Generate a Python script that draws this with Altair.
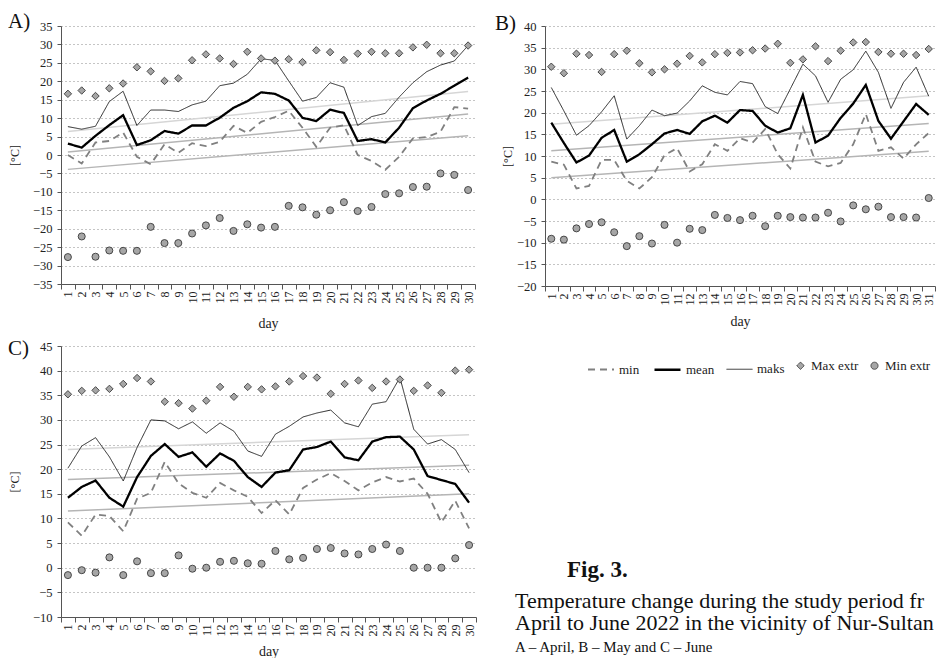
import altair as alt
import pandas as pd

FONT = "Liberation Serif"
SERIES = ["min", "mean", "maks", "Max extr", "Min extr"]

# ---------------- April (A) ----------------
A_days = list(range(1, 31))
A_min = [0.0, -2.3, 3.4, 3.8, 6.1, -0.5, -2.5, 2.9, 0.6, 3.2, 2.4, 3.6, 7.9, 6.0, 9.0,
         10.3, 12.0, 7.4, 2.2, 7.4, 8.1, 0.0, -1.6, -4.0, -0.5, 4.5, 4.9, 6.3, 13.0, 12.6]
A_mean = [3.1, 2.0, 5.2, 8.1, 10.8, 2.7, 4.0, 6.5, 5.8, 8.0, 8.0, 10.1, 12.8, 14.6, 17.0,
          16.6, 14.8, 10.1, 9.2, 12.3, 11.4, 3.8, 4.3, 3.4, 7.4, 12.7, 14.8, 16.6, 18.8, 21.0]
A_maks = [7.7, 7.0, 7.8, 14.5, 17.3, 8.0, 12.2, 12.2, 11.8, 13.6, 14.6, 18.8, 19.5, 21.9, 26.1,
          25.7, 20.1, 14.6, 15.6, 19.6, 18.4, 8.0, 10.4, 11.3, 15.7, 19.6, 22.6, 24.4, 25.5, 29.7]
A_max_extr = [16.6, 17.5, 16.0, 18.1, 19.4, 23.8, 22.7, 20.1, 20.8, 25.7, 27.3, 26.2, 24.7, 28.0, 26.2,
              25.6, 26.0, 25.2, 28.4, 27.9, 25.8, 27.5, 28.0, 27.6, 27.6, 29.2, 29.9, 27.6, 27.6, 29.7]
A_min_extr = [-27.7, -22.1, -27.6, -25.9, -26.0, -26.0, -19.5, -23.9, -23.9, -21.3, -19.1, -17.1, -20.6, -18.8, -19.7,
              -19.5, -13.8, -14.2, -16.2, -15.0, -12.8, -15.2, -14.1, -10.6, -10.4, -8.7, -8.6, -5.0, -5.4, -9.5]
A_trend_maks = [6.4, 17.2]
A_trend_mean = [0.8, 11.1]
A_trend_min = [-3.9, 5.2]

# ---------------- May (B) ----------------
B_days = list(range(1, 32))
B_min = [8.7, 8.0, 2.5, 3.1, 9.1, 9.1, 4.3, 2.5, 5.1, 10.2, 11.8, 6.4, 8.1, 12.7, 11.2, 14.1,
         13.1, 16.2, 10.4, 7.1, 16.6, 8.7, 7.6, 8.4, 12.7, 19.7, 11.2, 12.0, 9.4, 12.7, 15.3]
B_mean = [17.7, 13.0, 8.5, 10.1, 14.2, 16.0, 8.7, 10.4, 12.7, 15.2, 16.0, 15.1, 18.0, 19.3, 17.7, 20.6,
          20.4, 17.0, 15.4, 16.4, 24.1, 13.1, 14.7, 18.8, 22.1, 26.4, 18.1, 14.0, 18.0, 22.0, 19.5]
B_maks = [25.8, 20.4, 14.8, 17.0, 20.2, 23.9, 13.9, 17.0, 20.6, 19.3, 19.9, 22.7, 26.2, 24.7, 24.1, 27.2,
          26.7, 21.4, 19.8, 25.5, 31.2, 28.5, 22.4, 27.7, 29.9, 34.2, 29.3, 21.0, 27.0, 30.5, 23.8]
B_max_extr = [30.6, 29.1, 33.6, 33.3, 29.4, 33.5, 34.3, 31.4, 29.3, 30.0, 31.3, 33.1, 31.6, 33.5, 33.8, 33.9,
              34.4, 34.8, 35.9, 31.5, 32.3, 35.3, 31.9, 34.3, 36.2, 36.3, 34.0, 33.6, 33.6, 33.3, 34.7]
B_min_extr = [-9.1, -9.3, -6.7, -5.7, -5.3, -7.6, -10.8, -8.5, -10.2, -5.9, -10.0, -6.8, -7.1, -3.6, -4.3, -4.8,
              -3.8, -6.2, -3.8, -4.1, -4.2, -4.2, -3.1, -5.1, -1.4, -2.3, -1.7, -4.1, -4.1, -4.2, 0.3]
B_trend_maks = [17.3, 23.9]
B_trend_mean = [11.2, 17.5]
B_trend_min = [5.0, 11.1]

# ---------------- June (C) ----------------
C_days = list(range(1, 31))
C_min = [9.2, 6.5, 10.8, 10.5, 7.4, 14.0, 15.2, 21.5, 17.1, 15.2, 14.2, 17.2, 15.7, 14.4, 11.1,
         13.7, 10.8, 16.2, 17.9, 19.2, 17.6, 15.7, 17.3, 18.4, 17.5, 18.1, 15.0, 9.2, 13.6, 8.0]
C_mean = [14.2, 16.4, 17.7, 14.2, 12.4, 18.4, 22.7, 25.1, 22.5, 23.4, 20.5, 23.2, 21.7, 18.4, 16.4,
          19.3, 19.8, 24.0, 24.5, 25.6, 22.4, 21.8, 25.6, 26.5, 26.6, 24.0, 18.6, 17.8, 17.0, 13.2]
C_maks = [20.2, 24.7, 26.4, 22.5, 17.6, 24.4, 30.0, 29.8, 28.2, 29.6, 27.3, 29.4, 27.7, 23.7, 22.6,
          27.1, 28.7, 30.6, 31.4, 32.0, 29.4, 28.6, 33.2, 33.7, 38.6, 28.1, 25.1, 26.0, 24.0, 19.3]
C_max_extr = [35.2, 35.9, 36.0, 36.3, 37.3, 38.5, 37.8, 33.7, 33.4, 32.3, 33.9, 36.7, 34.7, 36.7, 36.2,
              36.8, 37.8, 38.9, 38.6, 35.3, 37.3, 38.0, 36.5, 37.8, 38.2, 35.9, 37.0, 35.5, 40.0, 40.2]
C_min_extr = [-1.5, -0.5, -1.0, 2.1, -1.5, 1.3, -1.1, -1.1, 2.5, -0.2, 0.0, 1.2, 1.4, 0.9, 0.8,
              3.4, 1.7, 2.0, 3.8, 4.0, 2.9, 2.7, 3.8, 4.7, 3.4, 0.0, 0.0, 0.0, 1.9, 4.6]
C_trend_maks = [24.0, 27.0]
C_trend_mean = [17.9, 20.8]
C_trend_min = [11.5, 15.0]

caption_fig = "Fig. 3."
caption_lines = ["Temperature change during the study period from",
                 "April to June 2022 in the vicinity of Nur-Sultan"]
caption_note = "A – April, B – May and C – June"

# ---------------- styles ----------------
STROKES = ["#808080", "#000000", "#262626", "#3a3a3a", "#3a3a3a"]
FILLS = ["transparent", "transparent", "transparent", "#a6a6a6", "#a6a6a6"]
DASHES = [[7, 5], [1, 0], [1, 0], [1, 0], [1, 0]]
WIDTHS = [1.8, 2.3, 1.0, 0.9, 0.9]
SHAPES = ["stroke", "stroke", "stroke", "diamond", "circle"]
SIZES = [676, 676, 676, 55, 50]

LEG = alt.Legend(title=None, orient="none", direction="horizontal",
                 legendX=526, legendY=329, labelFont=FONT, labelFontSize=13,
                 labelColor="#222", columnPadding=9, labelOffset=4)


def panel(days, mn, mean, mx, mxe, mne, tr_mx, tr_mean, tr_min, ymin, ymax,
          tag, w, h, tag_x, tag_y, title_x, xtitle_pad):
    n = len(days)
    line_df = pd.DataFrame({"day": days * 3, "value": mn + mean + mx,
                            "series": ["min"] * n + ["mean"] * n + ["maks"] * n})
    pt_df = pd.DataFrame({"day": days * 2, "value": mxe + mne,
                          "series": ["Max extr"] * n + ["Min extr"] * n})
    up_df = pd.DataFrame({"day": [days[0], days[-1]], "value": tr_mx})
    lo_df = pd.DataFrame({"day": [days[0], days[-1]] * 2, "value": tr_mean + tr_min,
                          "trend": ["mean", "mean", "min", "min"]})

    x = alt.X("day:O", title="day",
              scale=alt.Scale(type="band", paddingInner=0, paddingOuter=0),
              axis=alt.Axis(labelAngle=-90, tickBand="extent", tickSize=5, labelPadding=2,
                            labelFontSize=12, titleFontSize=14, titleFontWeight="normal",
                            titlePadding=xtitle_pad, grid=False, domainColor="#555",
                            tickColor="#555", labelColor="#222", titleColor="#222"))
    y = alt.Y("value:Q", title="[°C]",
              scale=alt.Scale(domain=[ymin, ymax], nice=False, zero=False),
              axis=alt.Axis(values=list(range(ymin, ymax + 1, 5)), tickSize=4, labelPadding=5,
                            labelFontSize=12.5, titleFontSize=12, titleFontWeight="normal",
                            titleX=title_x, titleBaseline="middle",
                            grid=True, gridDash=[1, 3], gridColor="#8a8a8a", gridWidth=1,
                            domainColor="#555", tickColor="#555", labelColor="#222",
                            titleColor="#222"))

    stroke = alt.Stroke("series:N", scale=alt.Scale(domain=SERIES, range=STROKES), legend=LEG)
    trend_up = alt.Chart(up_df).mark_line(color="#d6d6d6", strokeWidth=1.5).encode(x=x, y=y)
    trend_lo = alt.Chart(lo_df).mark_line(color="#b5b5b5", strokeWidth=1.5).encode(
        x=x, y=y, detail="trend:N")
    lines = alt.Chart(line_df).mark_line().encode(
        x=x, y=y, stroke=stroke,
        strokeDash=alt.StrokeDash("series:N", scale=alt.Scale(domain=SERIES, range=DASHES), legend=LEG),
        strokeWidth=alt.StrokeWidth("series:N", scale=alt.Scale(type="ordinal", domain=SERIES, range=WIDTHS), legend=LEG),
    )
    points = alt.Chart(pt_df).mark_point(opacity=1, strokeWidth=0.9).encode(
        x=x, y=y, stroke=stroke,
        fill=alt.Fill("series:N", scale=alt.Scale(domain=SERIES, range=FILLS), legend=LEG),
        shape=alt.Shape("series:N", scale=alt.Scale(domain=SERIES, range=SHAPES), legend=LEG),
        size=alt.Size("series:N", scale=alt.Scale(type="ordinal", domain=SERIES, range=SIZES), legend=LEG),
    )
    tag_layer = alt.Chart(pd.DataFrame({"t": [tag]})).mark_text(
        align="left", baseline="middle", fontSize=21, font=FONT, color="#111"
    ).encode(text="t:N", x=alt.value(tag_x), y=alt.value(tag_y))
    return alt.layer(trend_up, trend_lo, lines, points, tag_layer).properties(width=w, height=h)


A = panel(A_days, A_min, A_mean, A_maks, A_max_extr, A_min_extr,
          A_trend_maks, A_trend_mean, A_trend_min, -35, 35, "A)", 414, 258, -53, -4, -47, 13)
B = panel(B_days, B_min, B_mean, B_maks, B_max_extr, B_min_extr,
          B_trend_maks, B_trend_mean, B_trend_min, -20, 40, "B)", 390, 260, -50, -2, -38, 9)
C = panel(C_days, C_min, C_mean, C_maks, C_max_extr, C_min_extr,
          C_trend_maks, C_trend_mean, C_trend_min, -10, 45, "C)", 415, 271, -53, 3, -47, 8)

ELL = "\u200b"
fig_layer = alt.Chart(pd.DataFrame({"t": [caption_fig]})).mark_text(
    align="left", baseline="alphabetic", fontSize=23, fontWeight="bold", font=FONT, color="#111"
).encode(text="t:N", x=alt.value(75), y=alt.value(231))
cap1 = alt.Chart(pd.DataFrame({"t": [caption_lines[0]]})).mark_text(
    align="left", baseline="alphabetic", fontSize=22, font=FONT, color="#111",
    limit=411, ellipsis=ELL
).encode(text="t:N", x=alt.value(23), y=alt.value(262))
cap2 = alt.Chart(pd.DataFrame({"t": [caption_lines[1]]})).mark_text(
    align="left", baseline="alphabetic", fontSize=22, font=FONT, color="#111",
    limit=420, ellipsis=ELL
).encode(text="t:N", x=alt.value(23), y=alt.value(284))
cap3 = alt.Chart(pd.DataFrame({"t": [caption_note]})).mark_text(
    align="left", baseline="alphabetic", fontSize=15, font=FONT, color="#111"
).encode(text="t:N", x=alt.value(23), y=alt.value(306))
D = alt.layer(fig_layer, cap1, cap2, cap3).properties(width=420, height=271)

chart = alt.vconcat(
    alt.hconcat(A, B, spacing=19),
    alt.hconcat(C, D, spacing=15),
    spacing=8,
).properties(padding={"top": 3, "left": 0, "right": 0, "bottom": 0}
             ).configure(font=FONT).configure_view(strokeWidth=0)

chart.save("out.html", embed_options={"renderer": "svg", "actions": False})
